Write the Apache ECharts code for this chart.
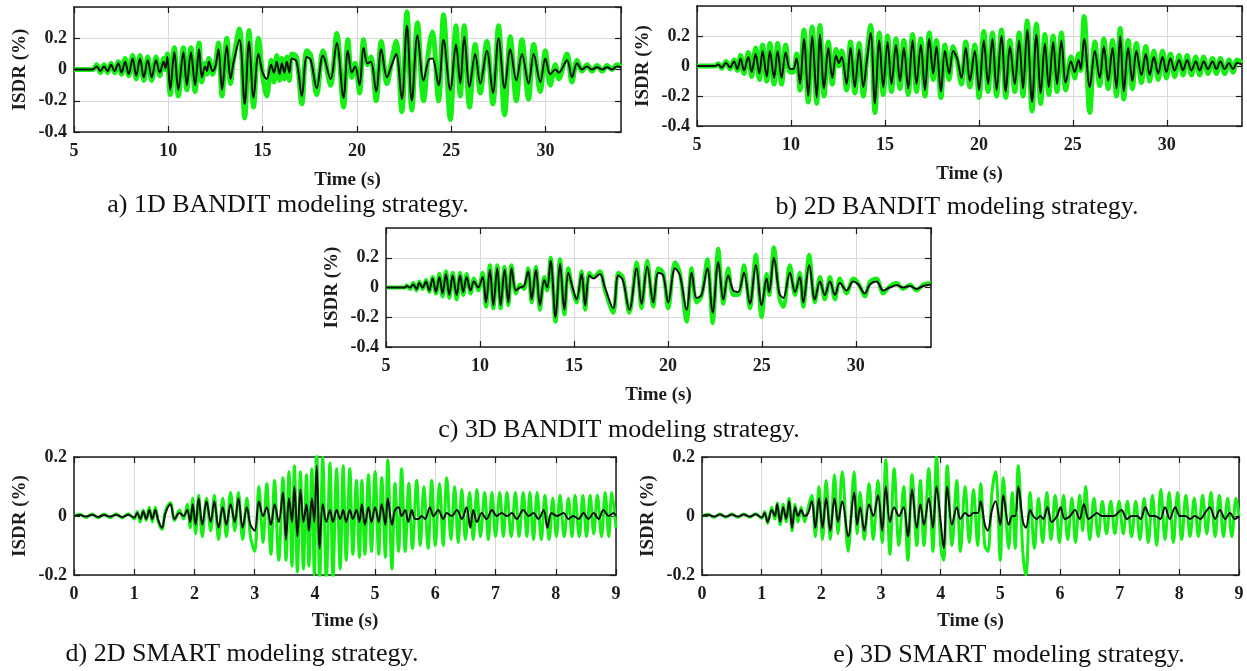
<!DOCTYPE html>
<html>
<head>
<meta charset="utf-8">
<title>ISDR time histories</title>
<script src="https://cdn.jsdelivr.net/npm/echarts@6.0.0/dist/echarts.min.js"></script>
<style>
  html, body { margin: 0; padding: 0; background: #fff; }
  #chart { width: 1247px; height: 671px; }
</style>
</head>
<body>
<div id="chart"></div>
<script>
// ------------------------------------------------------------
// Values (peaks / troughs of each record)
// *Time = instant (s), *Mean = black record, *Band = green spread
// ------------------------------------------------------------

// a) 1D BANDIT
const aTime = [
  5.0, 6.0, 6.2, 6.4, 6.59, 6.78, 6.96, 7.15, 7.35, 7.52,
  7.71, 7.9, 8.11, 8.3, 8.5, 8.7, 8.91, 9.12, 9.35, 9.55,
  9.75, 9.85, 9.95, 10.1, 10.32, 10.53, 10.8, 10.98, 11.2, 11.42,
  11.63, 11.78, 11.95, 12.05, 12.15, 12.35, 12.5, 12.66, 12.85, 13.1,
  13.3, 13.45, 13.77, 14.05, 14.28, 14.52, 14.78, 15.0, 15.22, 15.45,
  15.6, 15.75, 15.9, 16.02, 16.15, 16.28, 16.42, 16.55, 16.8, 17.08,
  17.34, 17.55, 17.87, 18.2, 18.6, 18.93, 19.29, 19.52, 19.73, 19.91,
  20.14, 20.35, 20.56, 20.74, 21.02, 21.29, 21.59, 21.85, 22.08, 22.38,
  22.65, 22.91, 23.21, 23.53, 23.8, 24.0, 24.33, 24.59, 24.95, 25.25,
  25.48, 25.69, 25.97, 26.27, 26.54, 26.89, 27.21, 27.51, 27.83, 28.13,
  28.45, 28.75, 29.1, 29.37, 29.72, 29.99, 30.25, 30.52, 30.7, 31.14,
  31.4, 31.67, 31.93, 32.2, 32.46, 32.73, 33.0, 33.26, 33.52, 33.79, 34.0
];
const aMean = [
  0, 0, 0.02, -0.01, 0.02, -0.01, 0.03, -0.01, 0.04, -0.02,
  0.05, -0.03, 0.07, -0.04, 0.07, -0.05, 0.06, -0.05, 0.06, -0.02,
  0.05, 0.01, 0.08, -0.13, 0.11, -0.13, 0.11, -0.1, 0.11, -0.1,
  0.13, -0.05, 0.02, -0.01, 0.05, -0.01, 0.02, 0.13, -0.13, 0.15,
  -0.06, 0.04, 0.19, -0.22, 0.18, -0.18, 0.1, -0.02, -0.06, 0.03,
  -0.02, 0.05, -0.03, 0.04, -0.02, 0.05, -0.02, 0.07, 0.05, -0.17,
  0.08, 0.06, -0.12, 0.09, -0.06, 0.17, -0.18, 0.12, -0.02, 0.02,
  -0.1, 0.14, 0.04, 0.05, -0.14, 0.13, -0.05, 0.03, 0.1, -0.19,
  0.28, -0.2, 0.22, -0.07, 0.06, 0.07, -0.1, 0.19, -0.13, 0.16,
  -0.09, 0.21, -0.11, 0.1, -0.09, 0.12, -0.15, 0.2, -0.12, 0.13,
  -0.07, 0.1, -0.09, 0.1, -0.08, 0.07, -0.03, 0.0, -0.02, 0.06,
  -0.05, 0.04, 0.0, 0.02, 0.0, 0.015, 0.0, 0.015, 0.0, 0.02, 0.015
];
const aBand = [
  0, 0, 0.03, -0.02, 0.03, -0.02, 0.04, -0.02, 0.05, -0.03,
  0.07, -0.04, 0.09, -0.06, 0.09, -0.07, 0.08, -0.07, 0.08, -0.04,
  0.07, 0.0, 0.1, -0.16, 0.14, -0.17, 0.14, -0.13, 0.14, -0.14,
  0.17, -0.08, 0.04, -0.03, 0.07, -0.03, 0.04, 0.17, -0.17, 0.2,
  -0.09, 0.06, 0.26, -0.31, 0.25, -0.24, 0.2, -0.04, -0.17, 0.06,
  -0.08, 0.09, -0.07, 0.07, -0.06, 0.08, -0.07, 0.1, 0.08, -0.22,
  0.12, 0.09, -0.16, 0.12, -0.1, 0.23, -0.24, 0.19, -0.05, 0.04,
  -0.15, 0.19, 0.03, 0.08, -0.2, 0.18, -0.09, 0.06, 0.18, -0.27,
  0.37, -0.26, 0.3, -0.2, 0.12, 0.24, -0.2, 0.35, -0.32, 0.28,
  -0.17, 0.28, -0.24, 0.16, -0.15, 0.18, -0.22, 0.28, -0.29, 0.21,
  -0.2, 0.19, -0.19, 0.16, -0.14, 0.12, -0.1, 0.03, -0.06, 0.1,
  -0.08, 0.06, -0.01, 0.03, -0.01, 0.025, -0.01, 0.025, 0.0, 0.03, 0.02
];

// b) 2D BANDIT
const bTime = [
  5.0, 5.96, 6.13, 6.31, 6.54, 6.76, 6.97, 7.15, 7.32, 7.5,
  7.73, 7.91, 8.12, 8.32, 8.49, 8.71, 8.88, 9.1, 9.29, 9.5,
  9.72, 9.95, 10.12, 10.3, 10.48, 10.69, 10.92, 11.13, 11.37, 11.54,
  11.76, 11.99, 12.2, 12.4, 12.55, 12.7, 12.96, 13.17, 13.4, 13.63,
  13.85, 14.05, 14.24, 14.47, 14.7, 14.91, 15.14, 15.35, 15.59, 15.8,
  16.01, 16.24, 16.47, 16.68, 16.91, 17.13, 17.36, 17.57, 17.74, 17.98,
  18.19, 18.42, 18.63, 18.84, 19.07, 19.3, 19.52, 19.78, 20.01, 20.26,
  20.49, 20.72, 20.94, 21.2, 21.43, 21.65, 21.91, 22.14, 22.35, 22.57,
  22.83, 23.06, 23.29, 23.51, 23.72, 23.95, 24.16, 24.39, 24.62, 24.9,
  25.1, 25.3, 25.42, 25.6, 25.9, 26.17, 26.43, 26.65, 26.88, 27.11,
  27.32, 27.52, 27.71, 27.94, 28.17, 28.38, 28.65, 28.88, 29.09, 29.31,
  29.54, 29.77, 29.98, 30.19, 30.42, 30.65, 30.86, 31.08, 31.31, 31.54,
  31.75, 31.96, 32.19, 32.43, 32.64, 32.85, 33.08, 33.31, 33.52, 33.74,
  34.0
];
const bMean = [
  0, 0, 0.01, -0.01, 0.02, -0.01, 0.03, -0.02, 0.05, -0.03,
  0.06, -0.04, 0.08, -0.05, 0.1, -0.07, 0.1, -0.08, 0.1, -0.08,
  0.09, -0.02, -0.02, 0.05, -0.12, 0.18, -0.2, 0.2, -0.21, 0.21,
  -0.15, 0.12, -0.08, 0.07, 0.02, 0.06, -0.12, 0.12, -0.14, 0.11,
  -0.14, 0.05, 0.22, -0.25, 0.17, -0.14, 0.16, -0.12, 0.14, -0.1,
  0.12, -0.15, 0.17, -0.12, 0.14, -0.16, 0.18, -0.05, 0.13, -0.17,
  0.1, -0.05, 0.1, 0.05, -0.08, 0.12, -0.1, 0.1, -0.16, 0.17,
  -0.12, 0.18, -0.16, 0.2, -0.17, 0.13, -0.12, 0.17, -0.15, 0.24,
  -0.24, 0.21, -0.18, 0.15, -0.14, 0.16, -0.12, 0.17, -0.11, 0.03,
  -0.04, 0.04, -0.02, 0.18, -0.14, 0.1, -0.08, 0.13, -0.1, 0.12,
  -0.15, 0.2, -0.17, 0.12, -0.1, 0.1, -0.06, 0.08, -0.06, 0.06,
  -0.05, 0.06, -0.04, 0.05, -0.03, 0.04, -0.03, 0.04, -0.03, 0.03,
  -0.03, 0.03, -0.02, 0.03, -0.02, 0.03, -0.02, 0.02, -0.02, 0.02,
  0.01
];
const bBand = [
  0, 0, 0.015, -0.015, 0.03, -0.02, 0.04, -0.03, 0.07, -0.05,
  0.09, -0.07, 0.12, -0.09, 0.14, -0.1, 0.15, -0.12, 0.15, -0.12,
  0.14, -0.04, -0.04, 0.08, -0.16, 0.24, -0.24, 0.26, -0.25, 0.27,
  -0.2, 0.16, -0.12, 0.11, 0.0, 0.1, -0.16, 0.16, -0.18, 0.15,
  -0.2, 0.08, 0.27, -0.31, 0.22, -0.19, 0.2, -0.17, 0.18, -0.15,
  0.17, -0.19, 0.21, -0.17, 0.18, -0.2, 0.22, -0.09, 0.17, -0.21,
  0.14, -0.09, 0.13, 0.04, -0.12, 0.16, -0.14, 0.14, -0.21, 0.23,
  -0.17, 0.22, -0.2, 0.24, -0.21, 0.17, -0.17, 0.22, -0.2, 0.3,
  -0.3, 0.28, -0.25, 0.21, -0.19, 0.2, -0.17, 0.22, -0.16, 0.06,
  -0.08, 0.08, -0.03, 0.33, -0.31, 0.16, -0.13, 0.18, -0.15, 0.17,
  -0.2, 0.25, -0.22, 0.17, -0.15, 0.15, -0.11, 0.13, -0.1, 0.1,
  -0.09, 0.1, -0.08, 0.08, -0.07, 0.07, -0.06, 0.07, -0.06, 0.06,
  -0.06, 0.06, -0.05, 0.05, -0.05, 0.05, -0.05, 0.04, -0.04, 0.04,
  0.02
];

// c) 3D BANDIT
const cTime = [
  5.0, 6.0, 6.1, 6.28, 6.45, 6.63, 6.77, 6.95, 7.13, 7.3,
  7.48, 7.66, 7.84, 8.01, 8.19, 8.37, 8.55, 8.76, 8.94, 9.11,
  9.29, 9.5, 9.68, 9.91, 10.14, 10.32, 10.53, 10.71, 10.92, 11.1,
  11.31, 11.51, 11.68, 11.91, 12.13, 12.34, 12.57, 12.75, 12.98, 13.19,
  13.42, 13.58, 13.76, 14.02, 14.26, 14.49, 14.7, 14.93, 15.14, 15.41,
  15.6, 15.82, 16.03, 16.38, 16.65, 17.09, 17.36, 17.6, 17.95, 18.34,
  18.6, 18.9, 19.22, 19.49, 19.75, 20.02, 20.38, 20.64, 21.0, 21.26,
  21.53, 21.79, 22.1, 22.38, 22.68, 22.95, 23.21, 23.48, 23.74, 24.05,
  24.36, 24.68, 24.99, 25.25, 25.39, 25.64, 25.93, 26.14, 26.49, 26.76,
  27.02, 27.2, 27.52, 27.82, 28.09, 28.35, 28.62, 28.89, 29.15, 29.51,
  29.86, 30.13, 30.48, 30.75, 31.1, 31.46, 31.81, 32.17, 32.52, 32.88,
  33.23, 33.59, 34.0
];
const cMean = [
  0, 0, 0.01, 0.0, 0.02, -0.01, 0.03, 0.0, 0.04, -0.02,
  0.06, -0.03, 0.07, -0.04, 0.09, -0.05, 0.08, -0.05, 0.08, -0.03,
  0.07, -0.02, 0.04, 0.0, 0.07, -0.1, 0.12, -0.12, 0.13, -0.12,
  0.12, -0.1, 0.13, -0.02, 0.0, 0.01, 0.11, -0.08, 0.12, -0.12,
  0.05, 0.0, 0.18, -0.2, 0.16, -0.15, 0.1, 0.0, -0.08, 0.09,
  -0.12, 0.08, 0.06, 0.09, 0.0, -0.14, 0.08, 0.05, -0.15, 0.13,
  -0.11, 0.14, -0.1, 0.1, 0.08, -0.1, 0.13, 0.08, -0.15, 0.1,
  -0.07, -0.05, 0.13, -0.17, 0.17, -0.08, 0.08, -0.02, -0.03, 0.1,
  -0.11, 0.15, -0.12, 0.06, -0.03, 0.2, -0.04, -0.07, 0.1, -0.03,
  0.07, -0.1, 0.15, -0.08, 0.04, -0.05, 0.04, -0.05, 0.03, -0.02,
  0.04, 0.02, -0.04, 0.02, 0.04, -0.02, 0.0, 0.015, 0.0, 0.01,
  -0.01, 0.01, 0.02
];
const cBand = [
  0, 0, 0.015, -0.01, 0.03, -0.02, 0.04, -0.01, 0.05, -0.03,
  0.07, -0.04, 0.09, -0.06, 0.11, -0.07, 0.1, -0.08, 0.1, -0.05,
  0.09, -0.04, 0.06, -0.02, 0.1, -0.13, 0.15, -0.14, 0.15, -0.14,
  0.14, -0.12, 0.15, -0.04, 0.02, -0.01, 0.13, -0.1, 0.14, -0.15,
  0.07, -0.02, 0.2, -0.23, 0.19, -0.18, 0.13, -0.02, -0.1, 0.11,
  -0.15, 0.1, 0.07, 0.11, -0.02, -0.17, 0.1, 0.07, -0.17, 0.17,
  -0.14, 0.18, -0.13, 0.13, 0.1, -0.14, 0.17, 0.1, -0.23, 0.13,
  -0.1, -0.06, 0.19, -0.24, 0.26, -0.11, 0.13, -0.05, -0.05, 0.15,
  -0.14, 0.22, -0.2, 0.09, -0.05, 0.27, -0.07, -0.13, 0.15, -0.05,
  0.1, -0.13, 0.22, -0.1, 0.07, -0.08, 0.07, -0.08, 0.06, -0.04,
  0.06, 0.03, -0.06, 0.04, 0.06, -0.04, 0.01, 0.03, -0.01, 0.02,
  -0.02, 0.02, 0.03
];

// d) 2D SMART
const dTime = [
  0, 0.1, 0.2, 0.3, 0.4, 0.5, 0.6, 0.7, 0.8, 0.9,
  1.0, 1.05, 1.1, 1.15, 1.2, 1.25, 1.3, 1.35, 1.4, 1.46,
  1.52, 1.6, 1.67, 1.75, 1.82, 1.88, 1.93, 1.97, 2.02, 2.07,
  2.13, 2.2, 2.27, 2.33, 2.4, 2.47, 2.53, 2.6, 2.67, 2.73,
  2.8, 2.87, 2.93, 3.0, 3.07, 3.14, 3.2, 3.27, 3.33, 3.4,
  3.47, 3.52, 3.57, 3.62, 3.66, 3.71, 3.76, 3.81, 3.86, 3.9,
  3.95, 3.99, 4.03, 4.08, 4.13, 4.19, 4.25, 4.3, 4.36, 4.42,
  4.47, 4.52, 4.58, 4.63, 4.69, 4.74, 4.78, 4.83, 4.89, 4.94,
  5.0, 5.06, 5.11, 5.17, 5.21, 5.28, 5.33, 5.39, 5.44, 5.5,
  5.55, 5.61, 5.66, 5.72, 5.77, 5.83, 5.91, 5.97, 6.05, 6.13,
  6.19, 6.27, 6.36, 6.44, 6.52, 6.58, 6.63, 6.69, 6.77, 6.85,
  6.94, 7.02, 7.1, 7.19, 7.27, 7.35, 7.46, 7.55, 7.63, 7.71,
  7.8, 7.86, 7.93, 8.02, 8.13, 8.21, 8.29, 8.38, 8.46, 8.54,
  8.63, 8.71, 8.79, 8.88, 8.96, 9.0
];
const dMean = [
  0, 0.003, -0.002, 0.004, -0.003, 0.003, -0.002, 0.004, -0.003, 0.004,
  -0.005, 0.01, -0.01, 0.015, -0.01, 0.02, -0.01, 0.02, -0.015, -0.04,
  0.01, 0.04, -0.01, 0.01, 0.0, 0.02, -0.02, 0.04, -0.03, 0.06,
  -0.03, 0.05, -0.02, 0.05, -0.04, 0.03, -0.03, 0.04, -0.02, 0.06,
  -0.04, 0.03, -0.03, -0.05, 0.05, 0.0, 0.03, -0.03, 0.04, -0.02,
  0.08, -0.08, 0.06, -0.02, 0.1, -0.07, 0.09, -0.02, 0.04, -0.05,
  0.06, -0.02, 0.17, -0.11, 0.04, -0.02, 0.02, -0.02, 0.02, -0.01,
  0.02, -0.02, 0.02, -0.01, 0.02, -0.02, 0.04, -0.03, 0.03, -0.02,
  0.03, -0.02, 0.04, -0.03, 0.06, -0.03, 0.02, 0.03, 0.0, 0.02,
  -0.02, 0.02, -0.01, -0.01, 0.0, -0.01, 0.03, 0.0, 0.02, -0.01,
  0.01, 0.0, 0.02, -0.01, 0.03, -0.04, 0.02, -0.02, 0.01, -0.01,
  0.02, 0.0, 0.01, 0.0, 0.01, -0.01, 0.02, 0.0, 0.01, -0.01,
  0.02, -0.04, 0.01, 0.0, 0.01, -0.01, 0.0, -0.01, 0.01, -0.01,
  0.01, -0.01, 0.02, 0.0, 0.01, 0.0
];
const dBandTime = [
  0, 0.1, 0.2, 0.3, 0.4, 0.5, 0.6, 0.7, 0.8, 0.9,
  1.0, 1.05, 1.1, 1.15, 1.2, 1.25, 1.3, 1.35, 1.4, 1.46,
  1.52, 1.6, 1.67, 1.75, 1.82, 1.88, 1.93, 1.97, 2.02, 2.07,
  2.13, 2.2, 2.27, 2.33, 2.4, 2.47, 2.53, 2.6, 2.67, 2.73,
  2.8, 2.87, 2.93, 3.0, 3.07, 3.14, 3.2, 3.27, 3.33, 3.4,
  3.47, 3.52, 3.57, 3.62, 3.66, 3.71, 3.76, 3.81, 3.86, 3.9,
  3.95, 3.99, 4.03, 4.08, 4.13, 4.19, 4.25, 4.3, 4.36, 4.42,
  4.47, 4.52, 4.58, 4.63, 4.69, 4.74, 4.78, 4.83, 4.89, 4.94,
  5.0, 5.06, 5.11, 5.17, 5.21, 5.28, 5.33, 5.39, 5.44,
  5.5, 5.56, 5.62, 5.69, 5.75, 5.81, 5.88, 5.94, 6.0, 6.07,
  6.13, 6.19, 6.26, 6.32, 6.38, 6.44, 6.5, 6.57, 6.63, 6.69,
  6.75, 6.82, 6.88, 6.94, 7.0, 7.07, 7.13, 7.19, 7.26, 7.33,
  7.39, 7.46, 7.52, 7.57, 7.63, 7.69, 7.76, 7.82, 7.89, 7.95,
  8.01, 8.07, 8.14, 8.21, 8.27, 8.32, 8.39, 8.45, 8.51, 8.57,
  8.63, 8.69, 8.76, 8.82, 8.88, 8.93, 9.0
];
const dBand = [
  0, 0.006, -0.005, 0.007, -0.006, 0.007, -0.006, 0.008, -0.007, 0.008,
  -0.01, 0.015, -0.02, 0.02, -0.015, 0.03, -0.02, 0.03, -0.02, -0.045,
  0.02, 0.045, -0.015, 0.02, -0.01, 0.04, -0.04, 0.06, -0.06, 0.07,
  -0.07, 0.06, -0.05, 0.07, -0.08, 0.06, -0.07, 0.08, -0.05, 0.08,
  -0.08, 0.06, -0.07, -0.12, 0.1, -0.09, 0.11, -0.13, 0.12, -0.15,
  0.13, -0.15, 0.15, -0.17, 0.17, -0.19, 0.15, -0.18, 0.14, -0.17,
  0.16, -0.2, 0.23, -0.22, 0.2, -0.22, 0.18, -0.21, 0.16, -0.18,
  0.17, -0.15, 0.16, -0.13, 0.12, -0.14, 0.12, -0.13, 0.14, -0.12,
  0.15, -0.13, 0.13, -0.14, 0.19, -0.18, 0.11, -0.12, 0.16,
  -0.12, 0.11, -0.11, 0.12, -0.1, 0.1, -0.11, 0.12, -0.1, 0.11,
  -0.1, 0.13, -0.08, 0.1, -0.09, 0.09, -0.08, 0.08, -0.08, 0.09,
  -0.07, 0.08, -0.08, 0.08, -0.07, 0.08, -0.07, 0.08, -0.07, 0.08,
  -0.07, 0.08, -0.07, 0.08, -0.08, 0.08, -0.08, 0.07, -0.08, 0.06,
  -0.07, 0.07, -0.07, 0.06, -0.07, 0.07, -0.07, 0.07, -0.07, 0.07,
  -0.06, 0.07, -0.07, 0.08, -0.07, 0.08, -0.04
];

// e) 3D SMART
const eTime = [
  0, 0.1, 0.2, 0.3, 0.4, 0.5, 0.6, 0.7, 0.8, 0.9,
  1.0, 1.05, 1.1, 1.17, 1.22, 1.26, 1.31, 1.36, 1.41, 1.46,
  1.51, 1.56, 1.61, 1.66, 1.72, 1.78, 1.84, 1.9, 1.96, 2.02,
  2.08, 2.15, 2.22, 2.28, 2.35, 2.45, 2.55, 2.6, 2.65, 2.72,
  2.8, 2.87, 2.95, 3.02, 3.08, 3.15, 3.22, 3.3, 3.38, 3.45,
  3.52, 3.6, 3.66, 3.72, 3.8, 3.87, 3.93, 4.0, 4.05, 4.11,
  4.19, 4.27, 4.33, 4.41, 4.48, 4.55, 4.62, 4.67, 4.74, 4.79,
  4.86, 4.92, 5.0, 5.05, 5.14, 5.2, 5.25, 5.3, 5.38, 5.43,
  5.5, 5.55, 5.61, 5.67, 5.72, 5.79, 5.86, 5.95, 6.01, 6.08,
  6.17, 6.25, 6.33, 6.4, 6.48, 6.55, 6.62, 6.7, 6.78, 6.9,
  7.03, 7.12, 7.2, 7.29, 7.35, 7.43, 7.51, 7.59, 7.68, 7.76,
  7.84, 7.93, 8.01, 8.1, 8.18, 8.26, 8.35, 8.43, 8.51, 8.6,
  8.68, 8.77, 8.85, 8.93, 9.0
];
const eMean = [
  0, 0.004, -0.002, 0.005, -0.002, 0.005, -0.002, 0.005, -0.002, 0.006,
  -0.005, 0.01, -0.02, 0.02, 0.0, 0.04, -0.02, 0.03, -0.01, 0.05,
  -0.04, 0.03, 0.0, 0.02, 0.0, 0.01, 0.05, -0.04, 0.06, -0.04,
  0.06, -0.05, 0.06, -0.02, 0.05, -0.07, 0.08, -0.03, 0.03, -0.05,
  0.04, 0.0, 0.07, -0.05, 0.1, -0.02, 0.03, 0.0, 0.03, -0.07,
  0.09, -0.04, 0.04, -0.03, 0.06, -0.04, 0.1, -0.02, -0.11, 0.1,
  -0.03, 0.03, -0.01, 0.01, 0.0, 0.01, 0.01, 0.05, -0.03, -0.05,
  0.02, 0.05, -0.03, 0.07, -0.03, 0.0, 0.0, 0.1, -0.02, -0.04,
  0.02, 0.0, -0.01, 0.0, -0.01, 0.03, -0.02, 0.0, 0.03, -0.01,
  0.0, 0.02, -0.01, 0.04, -0.01, 0.0, 0.01, 0.0, 0.0, 0.0,
  0.02, -0.01, 0.0, 0.0, -0.01, 0.03, 0.0, 0.0, -0.01, 0.03,
  -0.01, 0.03, 0.0, 0.0, -0.01, 0.0, -0.01, 0.01, 0.03, -0.01,
  0.02, -0.01, 0.01, -0.01, 0.0
];
const eBandTime = [
  0, 0.1, 0.2, 0.3, 0.4, 0.5, 0.6, 0.7, 0.8, 0.9,
  1.0, 1.05, 1.1, 1.17, 1.22, 1.26, 1.31, 1.36, 1.41, 1.46,
  1.51, 1.56, 1.61, 1.66, 1.72, 1.78, 1.84, 1.9, 1.96, 2.02,
  2.08, 2.15, 2.22, 2.28, 2.35, 2.45, 2.55, 2.6, 2.65, 2.72,
  2.8, 2.87, 2.95, 3.02, 3.08, 3.15, 3.22, 3.3, 3.38, 3.45,
  3.52, 3.6, 3.66, 3.72, 3.8, 3.87, 3.93, 4.0, 4.05, 4.11,
  4.19, 4.27, 4.33, 4.41, 4.48, 4.55, 4.62, 4.67, 4.74, 4.79,
  4.86, 4.92, 5.0, 5.05, 5.14, 5.2, 5.25, 5.3, 5.38, 5.43,
  5.5, 5.57, 5.64, 5.71, 5.78, 5.85, 5.92, 5.99, 6.06, 6.13,
  6.2, 6.26, 6.33, 6.38, 6.43, 6.5, 6.57, 6.64, 6.71, 6.78,
  6.85, 6.92, 6.99, 7.06, 7.13, 7.2, 7.27, 7.34, 7.41, 7.48,
  7.55, 7.62, 7.69, 7.76, 7.83, 7.9, 7.97, 8.04, 8.11, 8.18,
  8.25, 8.32, 8.39, 8.46, 8.53, 8.6, 8.67, 8.74, 8.81, 8.88,
  8.95, 9.0
];
const eBand = [
  0, 0.006, -0.004, 0.007, -0.004, 0.007, -0.004, 0.007, -0.004, 0.008,
  -0.008, 0.015, -0.025, 0.03, -0.01, 0.045, -0.03, 0.04, -0.02, 0.06,
  -0.05, 0.04, -0.02, 0.03, -0.02, 0.03, 0.07, -0.07, 0.1, -0.08,
  0.12, -0.08, 0.14, -0.06, 0.15, -0.12, 0.15, -0.06, 0.08, -0.08,
  0.11, -0.08, 0.12, -0.09, 0.19, -0.13, 0.16, -0.1, 0.1, -0.15,
  0.14, -0.1, 0.12, -0.1, 0.16, -0.12, 0.2, -0.1, -0.15, 0.17,
  -0.1, 0.12, -0.12, 0.1, -0.09, 0.09, -0.1, 0.11, -0.1, -0.12,
  0.08, 0.15, -0.15, 0.13, -0.11, 0.08, -0.11, 0.17, -0.13, -0.2,
  0.08, -0.11, 0.06, -0.09, 0.08, -0.08, 0.07, -0.09, 0.07, -0.08,
  0.06, -0.09, 0.07, -0.05, 0.1, -0.08, 0.06, -0.07, 0.05, -0.06,
  0.05, -0.06, 0.05, -0.06, 0.05, -0.07, 0.05, -0.08, 0.06, -0.09,
  0.07, -0.1, 0.09, -0.08, 0.08, -0.09, 0.08, -0.08, 0.07, -0.07,
  0.06, -0.07, 0.07, -0.06, 0.08, -0.07, 0.07, -0.07, 0.06, -0.07,
  0.06, 0.0
];

// ------------------------------------------------------------
// Layout / style
// ------------------------------------------------------------
const FONT = '"Liberation Serif", "Times New Roman", serif';
const INK = '#1c1c1c';
const GREEN = '#16ee16';
const GRIDLINE = '#d9d9d9';

const PANELS = [
  { time: aTime, mean: aMean, bandTime: aTime, band: aBand,
    grid: { left: 74, top: 7, width: 547, height: 125 },
    x: [5, 34, 5], y: [-0.4, 0.4, 0.2], edgeLabels: false, gap: 39, bandWidth: 5,
    caption: 'a) 1D BANDIT modeling strategy.', cap: [288, 205] },
  { time: bTime, mean: bMean, bandTime: bTime, band: bBand,
    grid: { left: 697, top: 6, width: 545, height: 120 },
    x: [5, 34, 5], y: [-0.4, 0.4, 0.2], edgeLabels: false, gap: 39, bandWidth: 5,
    caption: 'b) 2D BANDIT modeling strategy.', cap: [957, 207] },
  { time: cTime, mean: cMean, bandTime: cTime, band: cBand,
    grid: { left: 386, top: 228, width: 545, height: 119 },
    x: [5, 34, 5], y: [-0.4, 0.4, 0.2], edgeLabels: false, gap: 39, bandWidth: 4,
    caption: 'c) 3D BANDIT modeling strategy.', cap: [619, 430] },
  { time: dTime, mean: dMean, bandTime: dBandTime, band: dBand,
    grid: { left: 74, top: 457, width: 542, height: 118 },
    x: [0, 9, 1], y: [-0.2, 0.2, 0.2], edgeLabels: true, gap: 37, bandWidth: 3,
    caption: 'd) 2D SMART modeling strategy.', cap: [242, 654] },
  { time: eTime, mean: eMean, bandTime: eBandTime, band: eBand,
    grid: { left: 702, top: 457, width: 537, height: 118 },
    x: [0, 9, 1], y: [-0.2, 0.2, 0.2], edgeLabels: true, gap: 37, bandWidth: 3,
    caption: 'e) 3D SMART modeling strategy.', cap: [1009, 655] },
];

const boxLine = { show: true, onZero: false, lineStyle: { color: INK, width: 1.5 } };
const innerTick = { show: true, inside: true, length: 6, lineStyle: { color: INK, width: 1.2 } };
const tickText = { color: INK, fontFamily: FONT, fontSize: 18, fontWeight: 'bold' };
const nameText = { color: INK, fontFamily: FONT, fontSize: 19, fontWeight: 'bold' };

const grids = [], xAxes = [], yAxes = [], series = [], graphics = [];

PANELS.forEach((p, i) => {
  grids.push(Object.assign({ containLabel: false }, p.grid));

  // bottom (labelled) + top (ticks only) x axes
  xAxes.push({
    type: 'value', gridIndex: i, position: 'bottom',
    min: p.x[0], max: p.x[1], interval: p.x[2],
    axisLine: boxLine, axisTick: innerTick,
    axisLabel: Object.assign({ margin: 10, showMaxLabel: p.edgeLabels }, tickText),
    splitLine: { show: true, lineStyle: { color: GRIDLINE, width: 1 } },
    name: 'Time (s)', nameLocation: 'middle', nameGap: p.gap, nameTextStyle: nameText,
  });
  xAxes.push({
    type: 'value', gridIndex: i, position: 'top',
    min: p.x[0], max: p.x[1], interval: p.x[2],
    axisLine: boxLine, axisTick: innerTick,
    axisLabel: { show: false }, splitLine: { show: false },
  });

  // left (labelled) + right (ticks only) y axes
  yAxes.push({
    type: 'value', gridIndex: i, position: 'left',
    min: p.y[0], max: p.y[1], interval: p.y[2],
    axisLine: boxLine, axisTick: innerTick,
    axisLabel: Object.assign({ margin: 7, showMaxLabel: p.edgeLabels }, tickText),
    splitLine: { show: true, lineStyle: { color: GRIDLINE, width: 1 } },
    name: 'ISDR (%)', nameLocation: 'middle', nameRotate: 90, nameGap: 44, nameTextStyle: nameText,
  });
  yAxes.push({
    type: 'value', gridIndex: i, position: 'right',
    min: p.y[0], max: p.y[1], interval: p.y[2],
    axisLine: boxLine, axisTick: innerTick,
    axisLabel: { show: false }, splitLine: { show: false },
  });

  // green spread first, black record on top
  series.push({
    type: 'line', xAxisIndex: 2 * i, yAxisIndex: 2 * i,
    data: p.bandTime.map((t, k) => [t, p.band[k]]),
    showSymbol: false, smooth: 0.35, silent: true, z: 2,
    lineStyle: { color: GREEN, width: p.bandWidth },
  });
  series.push({
    type: 'line', xAxisIndex: 2 * i, yAxisIndex: 2 * i,
    data: p.time.map((t, k) => [t, p.mean[k]]),
    showSymbol: false, smooth: 0.35, silent: true, z: 3,
    lineStyle: { color: '#111', width: 2 },
  });

  graphics.push({
    type: 'text', x: p.cap[0], y: p.cap[1], silent: true,
    style: {
      text: p.caption, fill: '#111', font: `26px ${FONT}`,
      align: 'center', verticalAlign: 'middle',
    },
  });
});

const chart = echarts.init(document.getElementById('chart'), null, { renderer: 'canvas' });
chart.setOption({
  backgroundColor: '#ffffff',
  animation: false,
  grid: grids,
  xAxis: xAxes,
  yAxis: yAxes,
  series: series,
  graphic: graphics,
});
</script>
</body>
</html>
